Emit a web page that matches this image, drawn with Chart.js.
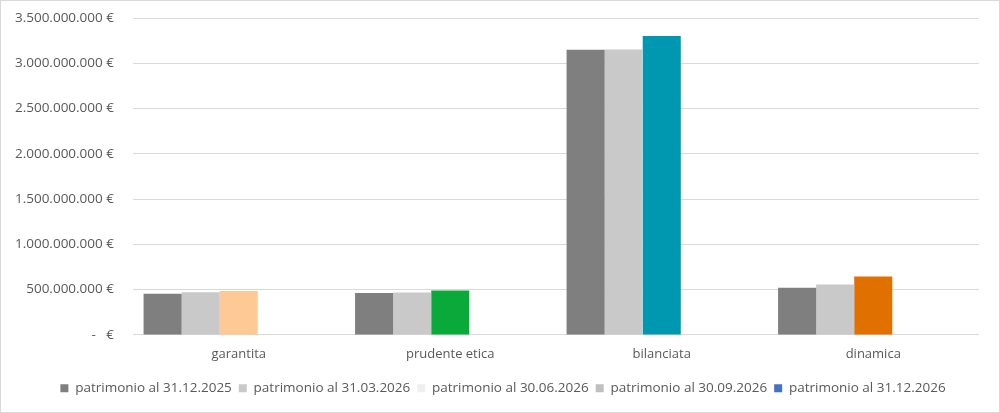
<!DOCTYPE html>
<html>
<head>
<meta charset="utf-8">
<script src="https://cdn.jsdelivr.net/npm/chart.js@4/dist/chart.umd.min.js"></script>
<style>
  html, body { margin: 0; padding: 0; background: #fff; }
  #wrap { position: relative; width: 998px; height: 411px; border: 1px solid #d9d9d9; }
</style>
</head>
<body>
<div id="wrap"><canvas id="patrimonioChart"></canvas></div>
<script>
// data
const categories = ['garantita', 'prudente etica', 'bilanciata', 'dinamica'];
const seriesNames = [
    'patrimonio al 31.12.2025',
    'patrimonio al 31.03.2026',
    'patrimonio al 30.06.2026',
    'patrimonio al 30.09.2026',
    'patrimonio al 31.12.2026'
];
const values1 = [455000000, 462000000, 3150000000, 522000000];
const values2 = [470000000, 467000000, 3152000000, 556000000];
const values3 = [484000000, 489000000, 3300000000, 645000000];
const values4 = [null, null, null, null];
const values5 = [null, null, null, null];
const yTicks = [0, 500000000, 1000000000, 1500000000, 2000000000, 2500000000, 3000000000, 3500000000];

const seriesColors = ['#7f7f7f', '#c9c9c9', '#efefef', '#bfbfbf', '#4472c4'];
const thirdBarColors = ['#ffc996', '#0aaa3a', '#0098b0', '#e07000'];

function euro(v) {
    if (v === 0) return '-   €';
    return String(v).replace(/\B(?=(\d{3})+(?!\d))/g, '.') + ' €';
}

// nudge the legend a bit to the right, like the original
const legendShift = {
    id: 'legendShift',
    afterLayout: function(chart) {
        if (chart.legend) {
            chart.legend.left += 8;
            chart.legend.right += 8;
        }
    }
};

document.addEventListener('DOMContentLoaded', function() {
    const ctx = document.getElementById('patrimonioChart').getContext('2d');
    const allValues = [values1, values2, values3, values4, values5];

    new Chart(ctx, {
        type: 'bar',
        data: {
            labels: categories,
            datasets: allValues.map((vals, i) => ({
                label: seriesNames[i],
                data: vals,
                backgroundColor: i === 2 ? thirdBarColors : seriesColors[i],
                borderWidth: 0,
                categoryPercentage: 0.9,
                barPercentage: 1.0
            }))
        },
        options: {
            responsive: true,
            maintainAspectRatio: false,
            animation: false,
            layout: {
                padding: { left: 10, right: 20, top: 17, bottom: 7 }
            },
            scales: {
                x: {
                    grid: { display: false, drawTicks: false },
                    border: { display: false },
                    ticks: {
                        color: '#595959',
                        font: { family: 'Open Sans', size: 13 },
                        padding: 12
                    }
                },
                y: {
                    min: 0,
                    max: 3500000000,
                    afterBuildTicks: function(scale) {
                        scale.ticks = yTicks.map(v => ({ value: v }));
                    },
                    afterFit: function(scale) {
                        scale.width = 122;
                        scale.paddingTop = 0;
                        scale.paddingBottom = 0;
                    },
                    grid: { color: '#d9d9d9', drawTicks: false },
                    border: { display: false },
                    ticks: {
                        color: '#595959',
                        font: { family: 'Open Sans', size: 13.5 },
                        padding: 19,
                        callback: function(value) {
                            return euro(value);
                        }
                    }
                }
            },
            plugins: {
                legend: {
                    position: 'bottom',
                    labels: {
                        color: '#595959',
                        font: { family: 'Open Sans', size: 13.5 },
                        boxWidth: 8,
                        boxHeight: 8,
                        padding: 7,
                        generateLabels: function(chart) {
                            return chart.data.datasets.map((ds, i) => ({
                                text: ds.label,
                                fillStyle: seriesColors[i],
                                strokeStyle: seriesColors[i],
                                lineWidth: 0,
                                fontColor: '#595959',
                                datasetIndex: i
                            }));
                        }
                    }
                },
                tooltip: { enabled: false }
            }
        },
        plugins: [legendShift]
    });
});
</script>
</body>
</html>
